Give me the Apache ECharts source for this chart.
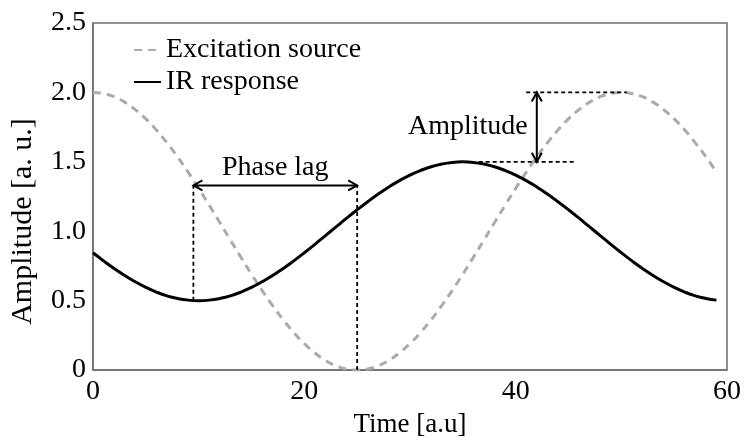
<!DOCTYPE html>
<html>
<head>
<meta charset="utf-8">
<script src="https://cdn.jsdelivr.net/npm/echarts@6/dist/echarts.min.js"></script>
<style>
  html, body { margin: 0; padding: 0; background: #fff; }
  #chart { width: 744px; height: 443px; }
</style>
</head>
<body>
<div id="chart"></div>
<script>
// Time samples [a.u]
const timeSteps = [
  0, 1, 2, 3, 4, 5, 6, 7, 8, 9, 10, 11, 12, 13, 14, 15, 16, 17, 18, 19,
  20, 21, 22, 23, 24, 25, 26, 27, 28, 29, 30, 31, 32, 33, 34, 35, 36, 37, 38, 39,
  40, 41, 42, 43, 44, 45, 46, 47, 48, 49, 50, 51, 52, 53, 54, 55, 56, 57, 58, 59
];

// Periodic heating signal
const excitationSource = [
  2.000, 1.992, 1.969, 1.930, 1.876, 1.809, 1.729, 1.637, 1.536, 1.426,
  1.309, 1.187, 1.063, 0.937, 0.813, 0.691, 0.574, 0.464, 0.363, 0.271,
  0.191, 0.124, 0.070, 0.031, 0.008, 0.000, 0.008, 0.031, 0.070, 0.124,
  0.191, 0.271, 0.363, 0.464, 0.574, 0.691, 0.813, 0.937, 1.063, 1.187,
  1.309, 1.426, 1.536, 1.637, 1.729, 1.809, 1.876, 1.930, 1.969, 1.992,
  2.000, 1.992, 1.969, 1.930, 1.876, 1.809, 1.729, 1.637, 1.536, 1.426
];

// Measured infrared response
const irResponse = [
  0.845, 0.787, 0.732, 0.681, 0.636, 0.596, 0.562, 0.535, 0.516, 0.504,
  0.500, 0.504, 0.516, 0.535, 0.562, 0.596, 0.636, 0.681, 0.732, 0.787,
  0.845, 0.906, 0.969, 1.031, 1.094, 1.155, 1.213, 1.268, 1.319, 1.365,
  1.405, 1.438, 1.465, 1.484, 1.496, 1.500, 1.496, 1.484, 1.465, 1.438,
  1.405, 1.365, 1.319, 1.268, 1.213, 1.155, 1.094, 1.031, 0.969, 0.906,
  0.845, 0.787, 0.732, 0.681, 0.636, 0.596, 0.562, 0.535, 0.516, 0.504
];

const xTicks = [0, 20, 40, 60];
const yTicks = [0, 0.5, 1.0, 1.5, 2.0, 2.5];

// Annotation geometry in data units
const dashedGuides = [
  [[9.5, 0.5], [9.5, 1.33]],   // IR minimum
  [[25, 0.0], [25, 1.33]],     // excitation minimum
  [[41, 2.0], [50.5, 2.0]],    // excitation peak
  [[36.5, 1.5], [45.7, 1.5]]   // IR peak
];
const doubleArrows = [
  [[9.5, 1.33], [25, 1.33]],
  [[42, 1.5], [42, 2.0]]
];
const annotationLabels = ['Phase lag', 'Amplitude'];
const annotationAnchors = [[17.25, 1.33], [42, 1.75]];

const seriesData = (ys) => timeSteps.map((t, i) => [t, ys[i]]);
const FONT = '"Liberation Serif", "Times New Roman", serif';

function renderAnnotations(params, api) {
  const children = [];
  dashedGuides.forEach(([a, b]) => {
    const p = api.coord(a), q = api.coord(b);
    children.push({
      type: 'line',
      shape: { x1: p[0], y1: p[1], x2: q[0], y2: q[1] },
      style: { stroke: '#000', lineWidth: 1.8, lineDash: [4, 3] }
    });
  });
  doubleArrows.forEach(([a, b]) => {
    const p = api.coord(a), q = api.coord(b);
    children.push({
      type: 'line',
      shape: { x1: p[0], y1: p[1], x2: q[0], y2: q[1] },
      style: { stroke: '#000', lineWidth: 2 }
    });
    const dx = q[0] - p[0], dy = q[1] - p[1];
    const len = Math.hypot(dx, dy);
    const ux = dx / len, uy = dy / len;
    const nx = -uy, ny = ux;
    const L = 9, W = 5;
    [[p, -1], [q, 1]].forEach(([pt, s]) => {
      const bx = pt[0] - s * ux * L, by = pt[1] - s * uy * L;
      children.push({
        type: 'polyline',
        shape: { points: [[bx + nx * W, by + ny * W], pt, [bx - nx * W, by - ny * W]] },
        style: { stroke: '#000', lineWidth: 2, fill: null }
      });
    });
  });
  const phasePos = api.coord(annotationAnchors[0]);
  children.push({
    type: 'text',
    x: phasePos[0], y: phasePos[1] - 4,
    style: { text: annotationLabels[0], font: '28px ' + FONT, fill: '#000', align: 'center', verticalAlign: 'bottom' }
  });
  const ampPos = api.coord(annotationAnchors[1]);
  children.push({
    type: 'text',
    x: ampPos[0] - 9, y: ampPos[1],
    style: { text: annotationLabels[1], font: '28px ' + FONT, fill: '#000', align: 'right', verticalAlign: 'middle' }
  });
  return { type: 'group', children };
}

const chart = echarts.init(document.getElementById('chart'), null, { renderer: 'canvas' });
chart.setOption({
  animation: false,
  backgroundColor: '#fff',
  textStyle: { fontFamily: FONT },
  grid: {
    left: 92, right: 16, top: 23, bottom: 63,
    show: true, borderColor: '#6e6e6e', borderWidth: 1.5, backgroundColor: 'transparent'
  },
  legend: {
    orient: 'vertical',
    left: 128, top: 30,
    itemWidth: 27, itemHeight: 14, itemGap: 2,
    itemStyle: { opacity: 0 },
    textStyle: { fontFamily: FONT, fontSize: 28, color: '#000', lineHeight: 30 },
    data: ['Excitation source', 'IR response']
  },
  xAxis: {
    type: 'value',
    min: 0, max: 60, interval: 20,
    name: 'Time [a.u]', nameLocation: 'middle', nameGap: 38,
    nameTextStyle: { fontFamily: FONT, fontSize: 27, color: '#000' },
    axisLine: { show: true, lineStyle: { color: '#6e6e6e', width: 1.5 } },
    axisTick: { show: false },
    splitLine: { show: false },
    axisLabel: {
      fontFamily: FONT, fontSize: 28, color: '#000', margin: 8,
      formatter: (v) => (xTicks.includes(v) ? String(v) : '')
    }
  },
  yAxis: {
    type: 'value',
    min: 0, max: 2.5, interval: 0.5,
    name: 'Amplitude [a. u.]', nameLocation: 'middle', nameGap: 55,
    nameTextStyle: { fontFamily: FONT, fontSize: 30, color: '#000', padding: [0, 50, 0, 0] },
    axisLine: { show: true, lineStyle: { color: '#6e6e6e', width: 1.5 } },
    axisTick: { show: false },
    splitLine: { show: false },
    axisLabel: {
      fontFamily: FONT, fontSize: 28, color: '#000', margin: 7,
      formatter: (v) => (yTicks.includes(v) ? (v === 0 ? '0' : v.toFixed(1)) : '')
    }
  },
  series: [
    {
      name: 'Excitation source',
      type: 'line',
      data: seriesData(excitationSource),
      smooth: true,
      symbol: 'none',
      lineStyle: { color: '#ababab', width: 3, type: [8, 6] },
      itemStyle: { color: '#ababab' },
      z: 2
    },
    {
      name: 'IR response',
      type: 'line',
      data: seriesData(irResponse),
      smooth: true,
      symbol: 'none',
      lineStyle: { color: '#000', width: 3 },
      itemStyle: { color: '#000' },
      z: 3
    },
    {
      type: 'custom',
      data: [[0, 0]],
      renderItem: renderAnnotations,
      silent: true,
      z: 4
    }
  ]
});
</script>
</body>
</html>
